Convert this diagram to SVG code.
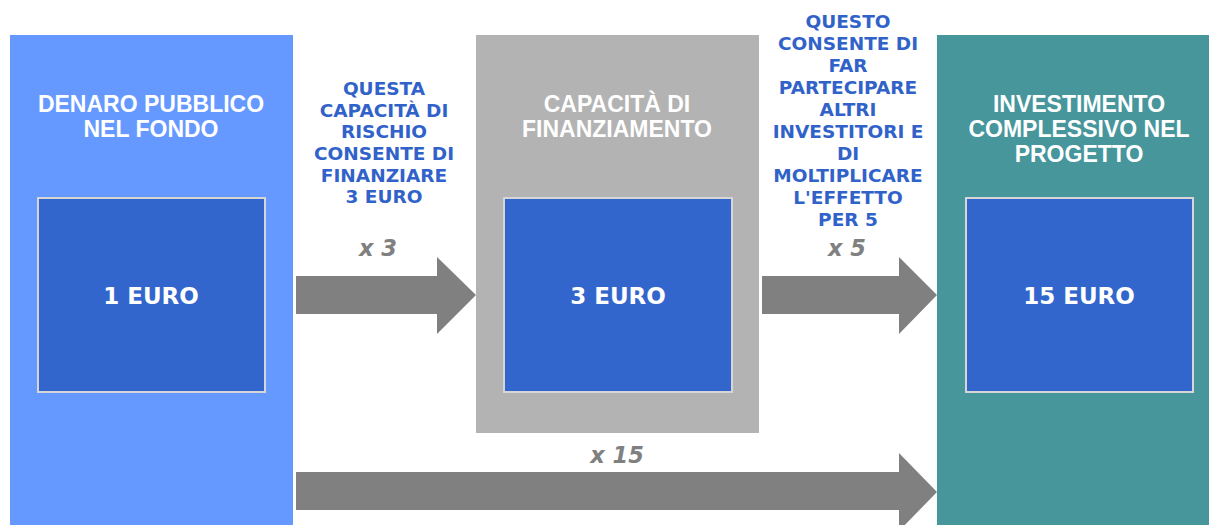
<svg xmlns="http://www.w3.org/2000/svg" width="1209" height="525" viewBox="0 0 1209 525">
<style>
.title{font-family:"Liberation Sans",Arial,sans-serif;font-weight:bold;font-size:23px;fill:#ffffff;text-anchor:middle}
.euro{font-family:"DejaVu Sans",Verdana,sans-serif;font-weight:bold;font-size:23px;fill:#ffffff;text-anchor:middle}
.note{font-family:"DejaVu Sans",Verdana,sans-serif;font-weight:bold;font-size:18.5px;fill:#3162C9;text-anchor:middle}
.mult{font-family:"DejaVu Sans",Verdana,sans-serif;font-weight:bold;font-style:italic;font-size:22.5px;fill:#808080;text-anchor:middle}
.inner{fill:#3366CC;stroke:#D6D6D6;stroke-width:2}
.arrow{fill:#808080}
</style>
<rect width="1209" height="525" fill="#ffffff"/>
<g id="node-denaro">
<rect x="10" y="35" width="283" height="490" fill="#6699FF"/>
<text class="title" x="151" y="112">DENARO PUBBLICO</text>
<text class="title" x="151" y="137">NEL FONDO</text>
<rect class="inner" x="38" y="198" width="227" height="194"/>
<text class="euro" x="151" y="304">1 EURO</text>
</g>
<g id="node-capacita">
<rect x="476" y="35" width="283" height="398" fill="#B3B3B3"/>
<text class="title" x="617" y="112">CAPACITÀ DI</text>
<text class="title" x="617" y="137">FINANZIAMENTO</text>
<rect class="inner" x="504" y="198" width="228" height="194"/>
<text class="euro" x="618" y="304">3 EURO</text>
</g>
<g id="node-investimento">
<rect x="937" y="35" width="272" height="490" fill="#46969C"/>
<text class="title" x="1079" y="112">INVESTIMENTO</text>
<text class="title" x="1079" y="137">COMPLESSIVO NEL</text>
<text class="title" x="1079" y="162">PROGETTO</text>
<rect class="inner" x="966" y="198" width="227" height="194"/>
<text class="euro" x="1079" y="304">15 EURO</text>
</g>
<g id="connectors">
<polygon class="arrow" points="296,276 437,276 437,257 476,295 437,334 437,314 296,314"/>
<polygon class="arrow" points="762,276 899,276 899,257 937,295 899,334 899,314 762,314"/>
<polygon class="arrow" points="296,472 899,472 899,453 937,492 899,531 899,510 296,510"/>
<text class="mult" x="378" y="256">x 3</text>
<text class="mult" x="847" y="256">x 5</text>
<text class="mult" x="617" y="463">x 15</text>
<text class="note" x="384" y="95">QUESTA</text>
<text class="note" x="384" y="117">CAPACITÀ DI</text>
<text class="note" x="384" y="138">RISCHIO</text>
<text class="note" x="384" y="160">CONSENTE DI</text>
<text class="note" x="384" y="182">FINANZIARE</text>
<text class="note" x="384" y="203">3 EURO</text>
<text class="note" x="848" y="28">QUESTO</text>
<text class="note" x="848" y="50">CONSENTE DI</text>
<text class="note" x="848" y="72">FAR</text>
<text class="note" x="848" y="94">PARTECIPARE</text>
<text class="note" x="848" y="116">ALTRI</text>
<text class="note" x="848" y="138">INVESTITORI E</text>
<text class="note" x="848" y="160">DI</text>
<text class="note" x="848" y="182">MOLTIPLICARE</text>
<text class="note" x="848" y="204">L'EFFETTO</text>
<text class="note" x="848" y="226">PER 5</text>
</g>
</svg>
